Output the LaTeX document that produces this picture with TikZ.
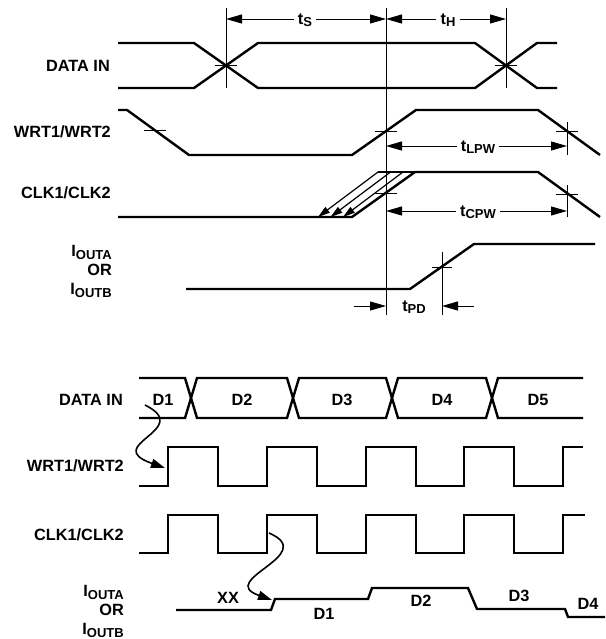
\documentclass[tikz,border=0pt]{standalone}
\usepackage{fontspec}
\setmainfont{Liberation Sans}
\usetikzlibrary{arrows.meta,positioning}
\newcommand{\subtxt}[1]{\raisebox{-2.5pt}[0pt][0pt]{\fontsize{13}{13}\selectfont #1}}
\tikzstyle{signal}=[
	line width=2.4pt,
	line join=miter
]
\tikzstyle{guide}=[line width=0.9pt]
\tikzstyle{crossmark}=[line width=0.6pt]
\tikzstyle{dim}=[
	line width=0.9pt,
	-{Triangle[length=16pt,width=9pt]}
]
\tikzstyle{cause}=[
	line width=1.6pt,
	-{Triangle[length=14pt,width=9pt]}
]
\tikzstyle{sweep}=[
	line width=1.2pt,
	-{Triangle[length=12pt,width=7pt]}
]
\tikzstyle{lbl}=[
	font=\bfseries\fontsize{16.3}{19}\selectfont,
	inner sep=0pt
]
\tikzstyle{dimlbl}=[lbl, inner sep=4pt]

\begin{document}
\begin{tikzpicture}[x=1pt,y=-1pt]
\useasboundingbox (0,0) rectangle (605,639);

% upper diagram: signal names
\node [lbl, anchor=east] (datain) at (110,66) {DATA IN};
\node [lbl, anchor=east] (wrt) at (111,132) {WRT1/WRT2};
\node [lbl, anchor=east] (clk) at (111,193) {CLK1/CLK2};
\node [lbl, anchor=east, align=right] (iout) at (112,270) {I\subtxt{OUTA}\\OR\\I\subtxt{OUTB}};

% reference points
\coordinate (dA) at (226,65.5);
\coordinate (dB) at (506,65.5);
\coordinate (wA) at (155,130);
\coordinate (wB) at (386,131);
\coordinate (wC) at (567,131);
\coordinate (cB) at (386,193);
\coordinate (cC) at (567,194);
\coordinate (oB) at (442,267);

% data in
\draw [signal] (118,43) -- (194,43) -- (258,88) -- (475,88) -- (537,43) -- (557,43);
\draw [signal] (118,88) -- (194,88) -- (258,43) -- (475,43) -- (537,88) -- (557,88);
\draw [crossmark] ([xshift=-11pt]dA) -- ([xshift=11pt]dA);
\draw [crossmark] ([xshift=-11pt]dB) -- ([xshift=11pt]dB);

% wrt
\draw [signal] (118,110) -- (127,110) -- (189,155) -- (352,155) -- (416,110) -- (538,110) -- (600,155);
\draw [crossmark] ([xshift=-11pt]wA) -- ([xshift=11pt]wA);
\draw [crossmark] ([xshift=-11pt]wB) -- ([xshift=11pt]wB);
\draw [crossmark] ([xshift=-11pt]wC) -- ([xshift=11pt]wC);

% clk, with the sweep of possible edges
\draw [signal] (118,217) -- (352,217) -- (415,172) -- (538,172) -- (600,217);
\draw [signal] (378,172) -- (415,172);
\foreach \s in {0,12.5,25}
	\draw [sweep] ({378+\s},172) -- ({318+\s},217);
\draw [crossmark] ([xshift=-11pt]cB) -- ([xshift=11pt]cB);
\draw [crossmark] ([xshift=-11pt]cC) -- ([xshift=11pt]cC);

% output
\draw [signal] (186,289) -- (410,289) -- (474,244) -- (595,244);
\draw [crossmark] ([xshift=-10pt]oB) -- ([xshift=10pt]oB);

% guides
\draw [guide] (dA |- 0,8) -- (dA |- 0,88);
\draw [guide] (dB |- 0,8) -- (dB |- 0,88);
\draw [guide] (wB |- 0,8) -- (wB |- 0,315);
\draw [guide] (wC |- 0,122) -- (wC |- 0,155);
\draw [guide] (cC |- 0,185) -- (cC |- 0,217);
\draw [guide] (oB |- 0,252) -- (oB |- 0,315);

% timing values
\node [dimlbl] (ts) at (305,19) {t\subtxt{S}};
\draw [dim] (ts) -- (dA |- ts);
\draw [dim] (ts) -- (wB |- ts);
\node [dimlbl] (th) at (448,19) {t\subtxt{H}};
\draw [dim] (th) -- (wB |- th);
\draw [dim] (th) -- (dB |- th);
\node [dimlbl] (tlpw) at (478,146) {t\subtxt{LPW}};
\draw [dim] (tlpw) -- (wB |- tlpw);
\draw [dim] (tlpw) -- (wC |- tlpw);
\node [dimlbl] (tcpw) at (478,211) {t\subtxt{CPW}};
\draw [dim] (tcpw) -- (cB |- tcpw);
\draw [dim] (tcpw) -- (cC |- tcpw);
\node [lbl] (tpd) at (414,306) {t\subtxt{PD}};
\coordinate (pdL) at (354,306);
\coordinate (pdR) at (474,306);
\draw [dim] (pdL) -- (wB |- pdL);
\draw [dim] (pdR) -- (oB |- pdR);

% lower diagram: signal names
\node [lbl, anchor=east] (datain2) at (123,400) {DATA IN};
\node [lbl, anchor=east] (wrt2) at (124,466) {WRT1/WRT2};
\node [lbl, anchor=east] (clk2) at (124,535) {CLK1/CLK2};
\node [lbl, anchor=east, align=right] (iout2) at (124,610) {I\subtxt{OUTA}\\OR\\I\subtxt{OUTB}};

% data words
\draw [signal] (139,378) -- (185,378) -- (197,418) -- (287,418) -- (299,378) -- (386,378)
	-- (398,418) -- (486,418) -- (498,378) -- (583,378);
\draw [signal] (139,418) -- (185,418) -- (197,378) -- (287,378) -- (299,418) -- (386,418)
	-- (398,378) -- (486,378) -- (498,418) -- (583,418);
\foreach \x/\t in {163/D1,242/D2,342/D3,442/D4,538/D5}
	\node [lbl] (\t) at (\x,400) {\t};

% wrt and clk pulses
\draw [signal] (139,486) \foreach \r in {168,267,366,464} {
	-- (\r,486) -- (\r,447) -- ({\r+50},447) -- ({\r+50},486) } -- (563,486) -- (563,447) -- (583,447);
\draw [signal] (139,553) \foreach \r in {168,267,366,464} {
	-- (\r,553) -- (\r,515) -- ({\r+50},515) -- ({\r+50},553) } -- (563,553) -- (563,515) -- (585,515);

% output levels
\draw [signal] (176,610) -- (271,610) -- (275,599) -- (368,599) -- (372,588) -- (468,588)
	-- (477,609) -- (565,609) -- (568,617) -- (605,617);
\node [lbl] (xx) at (228,598) {XX};
\node [lbl] (q1) at (324,614) {D1};
\node [lbl] (q2) at (421,601) {D2};
\node [lbl] (q3) at (519,596) {D3};
\node [lbl] (q4) at (588,604) {D4};

% cause and effect
\coordinate (src1) at (145,405);
\coordinate (dst1) at (165,468);
\draw [cause] (src1) .. controls (195,430) and (100,445) .. (dst1);
\coordinate (src2) at (269,533);
\coordinate (dst2) at (272,600);
\draw [cause] (src2) .. controls (320,555) and (215,580) .. (dst2);
\end{tikzpicture}
\end{document}
